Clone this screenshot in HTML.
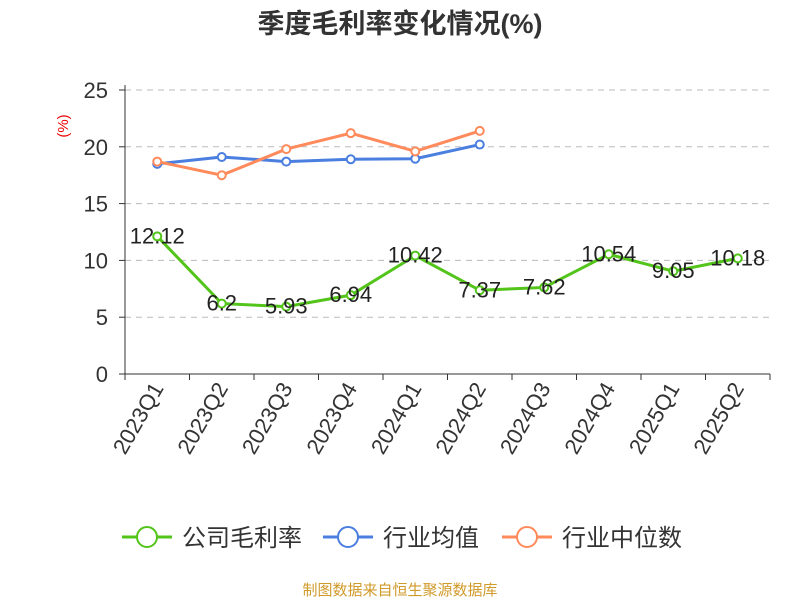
<!DOCTYPE html>
<html><head><meta charset="utf-8"><style>
body{margin:0;background:#fff;font-family:"Liberation Sans","Noto Sans CJK SC",sans-serif}
</style></head><body>
<svg id="c" width="800" height="600" xmlns="http://www.w3.org/2000/svg">
<text x="400" y="33" text-anchor="middle" font-size="27" font-weight="bold" fill="#333" font-family="Liberation Sans,Noto Sans CJK SC,sans-serif">季度毛利率变化情况(%)</text>
<text x="68" y="126" text-anchor="middle" font-size="15" fill="#e00" transform="rotate(-90 68 126)" font-family="Liberation Sans,sans-serif">(%)</text>
<g id="grid"></g><g id="axes"></g><g id="series"></g>
<g font-size="24" fill="#333" font-family="Liberation Sans,Noto Sans CJK SC,sans-serif">
<g><line x1="122" y1="537" x2="172" y2="537" stroke="#52c41a" stroke-width="3"/><circle cx="147" cy="537" r="10" fill="#fff" stroke="#52c41a" stroke-width="2"/><text x="182" y="546">公司毛利率</text></g>
<g><line x1="323" y1="537" x2="373" y2="537" stroke="#4a7fe0" stroke-width="3"/><circle cx="348" cy="537" r="10" fill="#fff" stroke="#4a7fe0" stroke-width="2"/><text x="383" y="546">行业均值</text></g>
<g><line x1="502" y1="537" x2="552" y2="537" stroke="#ff8a5b" stroke-width="3"/><circle cx="527" cy="537" r="10" fill="#fff" stroke="#ff8a5b" stroke-width="2"/><text x="562" y="546">行业中位数</text></g>
</g>
<text x="400" y="595" text-anchor="middle" font-size="15" fill="#d09a2a" font-family="Liberation Sans,Noto Sans CJK SC,sans-serif">制图数据来自恒生聚源数据库</text>
</svg>
<script>
const categories=["2023Q1","2023Q2","2023Q3","2023Q4","2024Q1","2024Q2","2024Q3","2024Q4","2025Q1","2025Q2"];
const companyValues=[12.12,6.2,5.93,6.94,10.42,7.37,7.62,10.54,9.05,10.18];
const industryAvg=[18.5,19.1,18.7,18.9,18.95,20.2];
const industryMedian=[18.7,17.5,19.8,21.2,19.6,21.4];
const yTicks=[0,5,10,15,20,25];
const NS="http://www.w3.org/2000/svg";
const x0=125,x1=770,yBase=374,yTop=90,yMax=25;
const bw=(x1-x0)/categories.length;
const xs=i=>x0+bw*(i+0.5);
const ys=v=>yBase-(v/yMax)*(yBase-yTop);
function mk(t,a,p){const e=document.createElementNS(NS,t);for(const k in a)e.setAttribute(k,a[k]);p.appendChild(e);return e;}
const grid=document.getElementById('grid'),axes=document.getElementById('axes'),ser=document.getElementById('series');
yTicks.forEach(v=>{
 if(v>0){const g=mk('line',{x1:x0,x2:x1,y1:ys(v),y2:ys(v),stroke:'#bbb','stroke-dasharray':'6,5'},grid);
 
 }
 const tk=mk('line',{x1:x0-6,x2:x0,y1:ys(v),y2:ys(v),stroke:'#333'},axes);
 
 
 const t=mk('text',{x:x0-17,y:ys(v)+8,'text-anchor':'end','font-size':22,fill:'#333'},axes);t.textContent=v;
 
 
});
const ya=mk('line',{x1:x0,x2:x0,y1:yTop-5,y2:yBase,stroke:'#333'},axes);


const xa=mk('line',{x1:x0,x2:x1,y1:yBase,y2:yBase,stroke:'#333'},axes);


for(let i=0;i<=categories.length;i++){const l=mk('line',{x1:x0+bw*i,x2:x0+bw*i,y1:yBase,y2:yBase+6,stroke:'#333'},axes);

}
categories.forEach((c,i)=>{const x=xs(i)+7,y=yBase+14;
 const t=mk('text',{x:x,y:y,'text-anchor':'end','font-size':22,fill:'#333',transform:`rotate(-60 ${x} ${y})`},axes);t.textContent=c;
 
 });
function line(vals,color,name,labels){
 const g=mk('g',{},ser);
 
 
 const p=mk('polyline',{points:vals.map((v,i)=>xs(i)+','+ys(v)).join(' '),fill:'none',stroke:color,'stroke-width':3},g);
 
 
 vals.forEach((v,i)=>{const c=mk('circle',{cx:xs(i),cy:ys(v),r:4,fill:'#fff',stroke:color,'stroke-width':2},g);
 
 
 if(labels){const t=mk('text',{x:xs(i),y:ys(v)+7,'text-anchor':'middle','font-size':22,fill:'#222'},g);t.textContent=v;
 
 }});
}
line(industryAvg,'#4a7fe0','industry-average',false);
line(industryMedian,'#ff8a5b','industry-median',false);
line(companyValues,'#52c41a','company-gross-margin',true);
</script>
</body></html>
